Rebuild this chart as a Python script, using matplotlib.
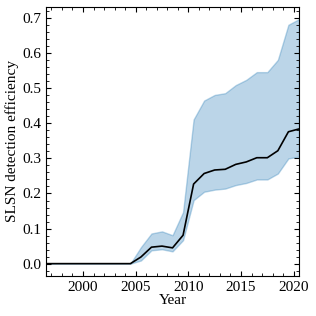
import numpy as np
import matplotlib
matplotlib.use("Agg")
from matplotlib import pyplot as plt
from matplotlib.ticker import MultipleLocator

plt.rcParams["font.family"] = ["Liberation Serif", "DejaVu Serif"]
plt.rcParams["font.size"] = 11

# 検出効率 (年ごとの中央値と幅)
years = np.arange(1996.5, 2021.0, 1.0)
median = [0, 0, 0, 0, 0, 0, 0, 0, 0,
          0.019, 0.047, 0.050, 0.045, 0.081, 0.227, 0.257, 0.267, 0.269,
          0.283, 0.290, 0.302, 0.302, 0.322, 0.376, 0.384]
lower = [0, 0, 0, 0, 0, 0, 0, 0, 0,
         0.009, 0.038, 0.041, 0.035, 0.067, 0.181, 0.205, 0.211, 0.214,
         0.224, 0.230, 0.240, 0.240, 0.257, 0.300, 0.305]
upper = [0, 0, 0, 0, 0, 0, 0, 0, 0,
         0.047, 0.086, 0.092, 0.081, 0.147, 0.411, 0.465, 0.481, 0.486,
         0.509, 0.524, 0.546, 0.546, 0.581, 0.681, 0.697]

fig = plt.figure(figsize=(3.16, 3.16), dpi=100)
ax = fig.add_axes([0.146, 0.127, 0.80, 0.851])

ax.fill_between(years, lower, upper, color="tab:blue", alpha=0.3)
ax.plot(years, median, color="k", lw=1.2)

ax.set_xlim(1996.5, 2020.5)
ax.xaxis.set_major_locator(MultipleLocator(5))
ax.xaxis.set_minor_locator(MultipleLocator(1))
ax.yaxis.set_major_locator(MultipleLocator(0.1))
ax.yaxis.set_minor_locator(MultipleLocator(0.02))
ax.tick_params(which="both", direction="in", top=True, right=True)
ax.tick_params(which="major", length=3.5)
ax.tick_params(which="minor", length=2)

ax.set_xlabel("Year", labelpad=0)
ax.set_ylabel("SLSN detection efficiency", labelpad=2)

fig.savefig("out.png", dpi=100)
